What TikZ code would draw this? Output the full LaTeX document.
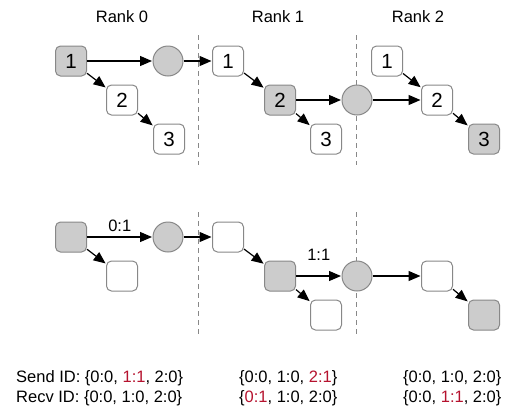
\documentclass[tikz,border=0pt]{standalone}
\usepackage{fontspec}
\setmainfont{Liberation Sans}
\usetikzlibrary{arrows.meta}
\definecolor{boxgray}{HTML}{CCCCCC}
\definecolor{edgegray}{HTML}{888888}
\definecolor{idred}{HTML}{B5122E}
\tikzset{
  blk/.style={draw=edgegray, line width=1pt, rounded corners=5pt, fill=white,
    minimum width=31pt, minimum height=30pt, inner sep=0pt,
    font=\fontsize{20.5}{24}\selectfont},
  gblk/.style={blk, fill=boxgray},
  msg/.style={circle, draw=edgegray, line width=1pt, fill=boxgray, minimum size=30pt, inner sep=0pt},
  arr/.style={-{Triangle[length=12pt,width=10pt]}, line width=1.2pt, black, shorten >=0.5pt},
  sep/.style={draw=edgegray, dash pattern=on 5pt off 4pt, line width=1pt},
  lbl/.style={font=\fontsize{16.5}{20}\selectfont},
  ids/.style={font=\fontsize{16.5}{20}\selectfont, align=left, anchor=west, inner sep=0pt}
}
\newcommand{\rd}[1]{\textcolor{idred}{#1}}
\begin{document}
\begin{tikzpicture}[x=1pt,y=-1pt]
\useasboundingbox (0,0) rectangle (510,410);
% separators
\coordinate (s1t) at (198,35); \coordinate (s1b) at (198,165);
\coordinate (s2t) at (356,35); \coordinate (s2b) at (356,165);
\coordinate (s3t) at (198,212); \coordinate (s3b) at (198,337);
\coordinate (s4t) at (356,212); \coordinate (s4b) at (356,337);
\draw[sep] (s1t) -- (s1b);
\draw[sep] (s2t) -- (s2b);
\draw[sep] (s3t) -- (s3b);
\draw[sep] (s4t) -- (s4b);
% rank labels
\node[lbl] (r0) at (122,17) {Rank 0};
\node[lbl] (r1) at (278,17) {Rank 1};
\node[lbl] (r2) at (418,17) {Rank 2};
% top diagram
\node[gblk] (a1) at (71,61) {1};
\node[blk] (a2) at (122,100) {2};
\node[blk] (a3) at (169,139) {3};
\node[msg] (m1) at (168,61) {};
\node[blk] (b1) at (228,61) {1};
\node[gblk] (b2) at (280,100) {2};
\node[blk] (b3) at (326,139) {3};
\node[msg] (m2) at (357,100) {};
\node[blk] (c1) at (387,61) {1};
\node[blk] (c2) at (437,100) {2};
\node[gblk] (c3) at (484,139) {3};
\draw[arr] (a1) -- (m1);
\draw[arr] (m1) -- (b1);
\draw[arr] (a1) -- (a2);
\draw[arr] (a2) -- (a3);
\draw[arr] (b1) -- (b2);
\draw[arr] (b2) -- (b3);
\draw[arr] (b2) -- (m2);
\draw[arr] (m2) -- (c2);
\draw[arr] (c1) -- (c2);
\draw[arr] (c2) -- (c3);
% bottom diagram
\node[gblk] (d1) at (71,237) {};
\node[blk] (d2) at (122,276) {};
\node[msg] (n1) at (168,237) {};
\node[blk] (e1) at (228,237) {};
\node[gblk] (e2) at (280,276) {};
\node[blk] (e3) at (326,315) {};
\node[msg] (n2) at (357,276) {};
\node[blk] (f1) at (437,276) {};
\node[gblk] (f2) at (484,315) {};
\draw[arr] (d1) -- node[lbl, above=1pt] (l01) {0:1} (n1);
\draw[arr] (n1) -- (e1);
\draw[arr] (d1) -- (d2);
\draw[arr] (e1) -- (e2);
\draw[arr] (e2) -- (e3);
\draw[arr] (e2) -- node[lbl, above=12pt] (l11) {1:1} (n2);
\draw[arr] (n2) -- (f1);
\draw[arr] (f1) -- (f2);
% id texts
\node[ids] (t0) at (16,388) {Send ID: \{0:0, \rd{1:1}, 2:0\}\\Recv ID: \{0:0, 1:0, 2:0\}};
\node[ids] (t1) at (239,388) {\{0:0, 1:0, \rd{2:1}\}\\\{\rd{0:1}, 1:0, 2:0\}};
\node[ids] (t2) at (403,388) {\{0:0, 1:0, 2:0\}\\\{0:0, \rd{1:1}, 2:0\}};
\end{tikzpicture}
\end{document}
